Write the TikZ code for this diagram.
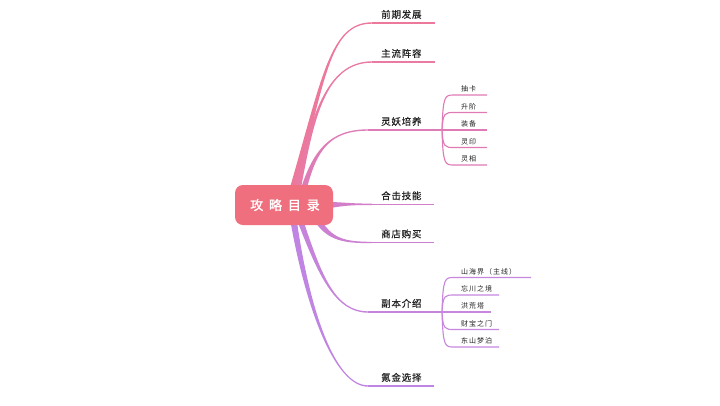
\documentclass[tikz,border=0pt]{standalone}
\usepackage{fontspec}
\setmainfont{Noto Sans CJK SC}
\newfontfamily\rootfont[FakeBold=1.2,LetterSpace=45]{Noto Sans CJK SC}
\newfontfamily\branchfont[FakeBold=0.5,LetterSpace=8]{Noto Sans CJK SC}
\newfontfamily\leaffont[LetterSpace=14]{Noto Sans CJK SC}
\usetikzlibrary{calc,backgrounds}
\definecolor{rootc}{HTML}{EF6F7E}
\definecolor{c1}{HTML}{EC789C}
\definecolor{c2}{HTML}{E87AA3}
\definecolor{c3}{HTML}{DE7CB8}
\definecolor{c4}{HTML}{D27EC8}
\definecolor{c5}{HTML}{CC80D1}
\definecolor{c6}{HTML}{C583DC}
\definecolor{c7}{HTML}{C085E2}
\definecolor{sub3}{HTML}{E07AB4}
\definecolor{sub6}{HTML}{C787DF}
\definecolor{txt}{HTML}{222222}
\newcommand\taper[6]{%
  \fill[#1] ($(#2)+(#3)$) .. controls ($(#4)+0.55*(#3)$) and ($(#5)+(0,-0.7)$) .. ($(#6)+(0,-0.7)$)
    -- ($(#6)+(0,0.7)$) .. controls ($(#5)+(0,0.7)$) and ($(#4)-0.55*(#3)$) .. ($(#2)-(#3)$) -- cycle;}
\begin{document}
\begin{tikzpicture}[x=1pt,y=-1pt,
  rootbox/.style={fill=rootc,text=white,rounded corners=8pt,minimum width=98pt,minimum height=40pt,inner sep=0pt,font=\rootfont\fontsize{13}{13}\selectfont},
  branch/.style={anchor=base west,inner sep=0pt,text=txt,font=\branchfont\fontsize{9.5}{9.5}\selectfont},
  leaf/.style={anchor=base west,inner sep=0pt,text=txt,font=\leaffont\fontsize{7}{7}\selectfont},
  uline/.style={line width=1.4pt},
  subline/.style={line width=1.1pt}]
\useasboundingbox (0,0) rectangle (720,405);
\node[rootbox] (root) at (284,205) {\hspace*{2pt}攻略目录};
% start points on the root
\coordinate (s1) at ($(root.north west)+(58,4)$);
\coordinate (s2) at ($(root.north west)+(63,4)$);
\coordinate (s3) at ($(root.north west)+(69,4)$);
\coordinate (s4) at ($(root.east)+(-3,0)$);
\coordinate (s5) at ($(root.south west)+(83,-5)$);
\coordinate (s6) at ($(root.south west)+(66,-3)$);
\coordinate (s7) at ($(root.south west)+(59,-3)$);
% branch ends
\coordinate (e1) at (372,23);    \coordinate (f1) at (435,23);
\coordinate (e2) at (372,62);    \coordinate (f2) at (435,62);
\coordinate (e3) at (368,130);   \coordinate (f3) at (442,130);
\coordinate (e4) at (372,204.3); \coordinate (f4) at (434,204.3);
\coordinate (e5) at (372,242.5); \coordinate (f5) at (434,242.5);
\coordinate (e6) at (368,312);   \coordinate (f6) at (442,312);
\coordinate (e7) at (368,386);   \coordinate (f7) at (434,386);
% branch labels
\node[branch] (b1) at (381,18) {前期发展};
\node[branch] (b2) at (381,57) {主流阵容};
\node[branch] (b3) at (381,125) {灵妖培养};
\node[branch] (b4) at (381,199.3) {合击技能};
\node[branch] (b5) at (381,237.5) {商店购买};
\node[branch] (b6) at (381,307) {副本介绍};
\node[branch] (b7) at (381,381) {氪金选择};
% leaves of 灵妖培养
\foreach \i/\y/\xe/\t in {1/95/487/抽卡,2/112.5/487/升阶,3/130/487/装备,4/147.5/487/灵印,5/165/487/灵相}{
  \coordinate (g3\i) at (454,\y);
  \coordinate (h3\i) at (\xe,\y);
  \node[leaf] (l3\i) at (461,\y-3.3) {\t};
}
% leaves of 副本介绍
\foreach \i/\y/\xe/\t in {1/277.5/531/山海界（主线）,2/295/499/忘川之境,3/312/491/洪荒塔,4/329.5/499/财宝之门,5/347/499/东山梦泊}{
  \coordinate (g6\i) at (454,\y);
  \coordinate (h6\i) at (\xe,\y);
  \node[leaf] (l6\i) at (461,\y-3.3) {\t};
}
\begin{pgfonlayer}{background}
\fill[white] (0,0) rectangle (720,405);
\taper{c1}{s1}{-3.2,0}{324,77}{330,23}{e1}
\taper{c2}{s2}{-3,0}{312,120}{325,62}{e2}
\taper{c3}{s3}{-3,0}{315,150}{330,130}{e3}
\taper{c4}{s4}{0,-3}{345,204}{350,204.3}{e4}
\taper{c5}{s5}{2.3,-2.3}{330,240}{345,242.5}{e5}
\taper{c6}{s6}{3,0}{320,275}{335,312}{e6}
\taper{c7}{s7}{3.2,0}{308,310}{335,386}{e7}
\draw[uline,c1] (e1) -- (f1);
\draw[uline,c2] (e2) -- (f2);
\draw[uline,c3] (e3) -- (f3);
\draw[uline,c4] (e4) -- (f4);
\draw[uline,c5] (e5) -- (f5);
\draw[uline,c6] (e6) -- (f6);
\draw[uline,c7] (e7) -- (f7);
\foreach \i/\y in {1/95,2/112.5,3/130,4/147.5,5/165}{
  \draw[subline,sub3] (f3) .. controls (443,\y) and (445,\y) .. (g3\i) -- (h3\i);
}
\foreach \i/\y in {1/277.5,2/295,3/312,4/329.5,5/347}{
  \draw[subline,sub6] (f6) .. controls (443,\y) and (445,\y) .. (g6\i) -- (h6\i);
}
\end{pgfonlayer}
\end{tikzpicture}
\end{document}
